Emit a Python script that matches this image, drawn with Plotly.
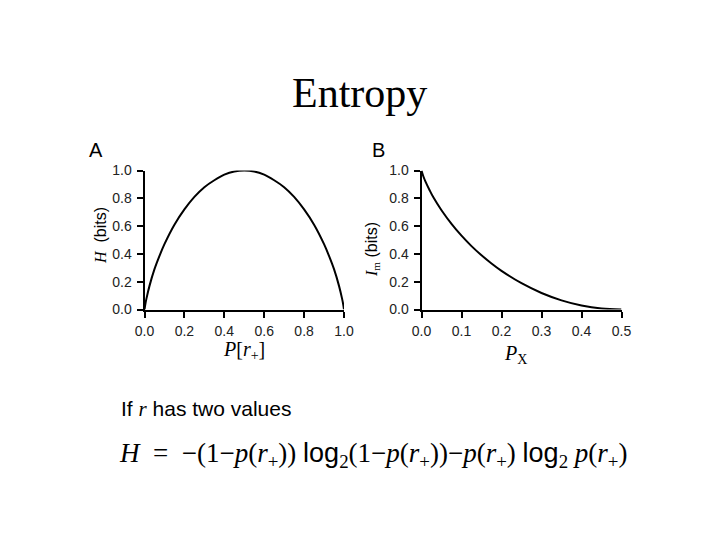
import plotly.graph_objects as go

# Panel A: entropy H (bits) vs P[r+]
p_plus = [0.0, 0.005, 0.01, 0.025, 0.05, 0.075, 0.1, 0.15, 0.2, 0.25, 0.3, 0.35, 0.4, 0.45, 0.5,
          0.55, 0.6, 0.65, 0.7, 0.75, 0.8, 0.85, 0.9, 0.925, 0.95, 0.975, 0.99, 0.995, 1.0]
H_bits = [0.0, 0.045, 0.08, 0.17, 0.29, 0.385, 0.47, 0.61, 0.72, 0.81, 0.88, 0.93, 0.97, 0.993, 1.0,
          0.993, 0.97, 0.93, 0.88, 0.81, 0.72, 0.61, 0.47, 0.385, 0.29, 0.17, 0.08, 0.045, 0.0]

# Panel B: I_m (bits) vs P_X
p_x = [0.0, 0.005, 0.01, 0.02, 0.03, 0.05, 0.075, 0.1, 0.125, 0.15, 0.175, 0.2, 0.25, 0.3,
       0.35, 0.4, 0.45, 0.5]
Im_bits = [1.0, 0.955, 0.92, 0.86, 0.805, 0.714, 0.616, 0.531, 0.456, 0.39, 0.331, 0.278, 0.189,
           0.119, 0.066, 0.029, 0.007, 0.0]

ticks_A_x = [0.0, 0.2, 0.4, 0.6, 0.8, 1.0]
ticks_B_x = [0.0, 0.1, 0.2, 0.3, 0.4, 0.5]
ticks_y = [0.0, 0.2, 0.4, 0.6, 0.8, 1.0]

W, Hh = 720, 540
SERIF = "Liberation Serif"
SANS = "Liberation Sans"


def px(x):
    return x / W


def py(y):
    return 1 - y / Hh


fig = go.Figure()
fig.add_trace(go.Scatter(x=p_plus, y=H_bits, mode="lines",
                         line=dict(color="black", width=2, shape="spline", smoothing=1.0),
                         xaxis="x", yaxis="y", showlegend=False, hoverinfo="skip", cliponaxis=False))
fig.add_trace(go.Scatter(x=p_x, y=Im_bits, mode="lines",
                         line=dict(color="black", width=2, shape="spline", smoothing=1.0),
                         xaxis="x2", yaxis="y2", showlegend=False, hoverinfo="skip", cliponaxis=False))

axis_common = dict(showline=True, linecolor="black", linewidth=2, ticks="outside", ticklen=6,
                   tickwidth=1.5, tickcolor="black", showgrid=False, zeroline=False,
                   automargin=False, ticklabelstandoff=2,
                   tickfont=dict(family=SANS, size=14, color="#222"), tickformat=".1f")

ydom = [py(309.5), py(170.5)]
fig.update_layout(
    template="none",
    width=W, height=Hh, margin=dict(l=0, r=0, t=0, b=0, pad=0, autoexpand=False),
    paper_bgcolor="white", plot_bgcolor="white",
    xaxis=dict(domain=[px(144.5), px(344)], range=[0, 1], tickvals=ticks_A_x, anchor="y", **axis_common),
    yaxis=dict(domain=ydom, range=[0, 1], tickvals=ticks_y, anchor="x", **axis_common),
    xaxis2=dict(domain=[px(421.5), px(621.5)], range=[0, 0.5], tickvals=ticks_B_x, anchor="y2", **axis_common),
    yaxis2=dict(domain=ydom, range=[0, 1], tickvals=ticks_y, anchor="x2", **axis_common),
)

ser = "<span style='font-family:Liberation Serif'>"
sans = "<span style='font-family:Liberation Sans'>"
rp = "<i>r</i><sub>+</sub>"
formula = ("<i>H</i>  =  −(1−<i>p</i>(" + rp + ")) " + sans + "log</span><sub>2</sub>(1−<i>p</i>(" + rp +
           "))−<i>p</i>(" + rp + ") " + sans + "log</span><sub>2</sub> <i>p</i>(" + rp + ")")

annots = [
    dict(text="Entropy", x=359, y=93, size=42, family=SERIF, angle=0),
    dict(text="A", x=96, y=150, size=20, family=SANS, angle=0),
    dict(text="B", x=378, y=150, size=20, family=SANS, angle=0),
    dict(text=ser + "<i>H</i></span>  (bits)", x=100, y=236, size=16, family=SANS, angle=-90),
    dict(text="<i>P</i>[<i>r</i><sub>+</sub>]", x=244, y=350, size=20, family=SERIF, angle=0),
    dict(text=ser + "<i>I</i><sub>m</sub></span> (bits)", x=372, y=250, size=16, family=SANS, angle=-90),
    dict(text="<i>P</i><sub>X</sub>", x=515, y=354, size=20, family=SERIF, angle=0),
]
for a in annots:
    fig.add_annotation(text=a["text"], x=px(a["x"]), y=py(a["y"]), xref="paper", yref="paper",
                       showarrow=False, xanchor="center", yanchor="middle", textangle=a["angle"],
                       font=dict(family=a["family"], size=a["size"], color="black"))

fig.add_annotation(text="If " + ser + "<i>r</i></span> has two values", x=px(119), y=py(409),
                   xref="paper", yref="paper", showarrow=False, xanchor="left", yanchor="middle",
                   font=dict(family=SANS, size=21, color="black"))
fig.add_annotation(text=formula, x=px(117), y=py(455), xref="paper", yref="paper", showarrow=False,
                   xanchor="left", yanchor="middle", font=dict(family=SERIF, size=27, color="black"))

fig.write_html("out.html", config={"displayModeBar": False},
               post_script="document.body.style.margin='0px';")
